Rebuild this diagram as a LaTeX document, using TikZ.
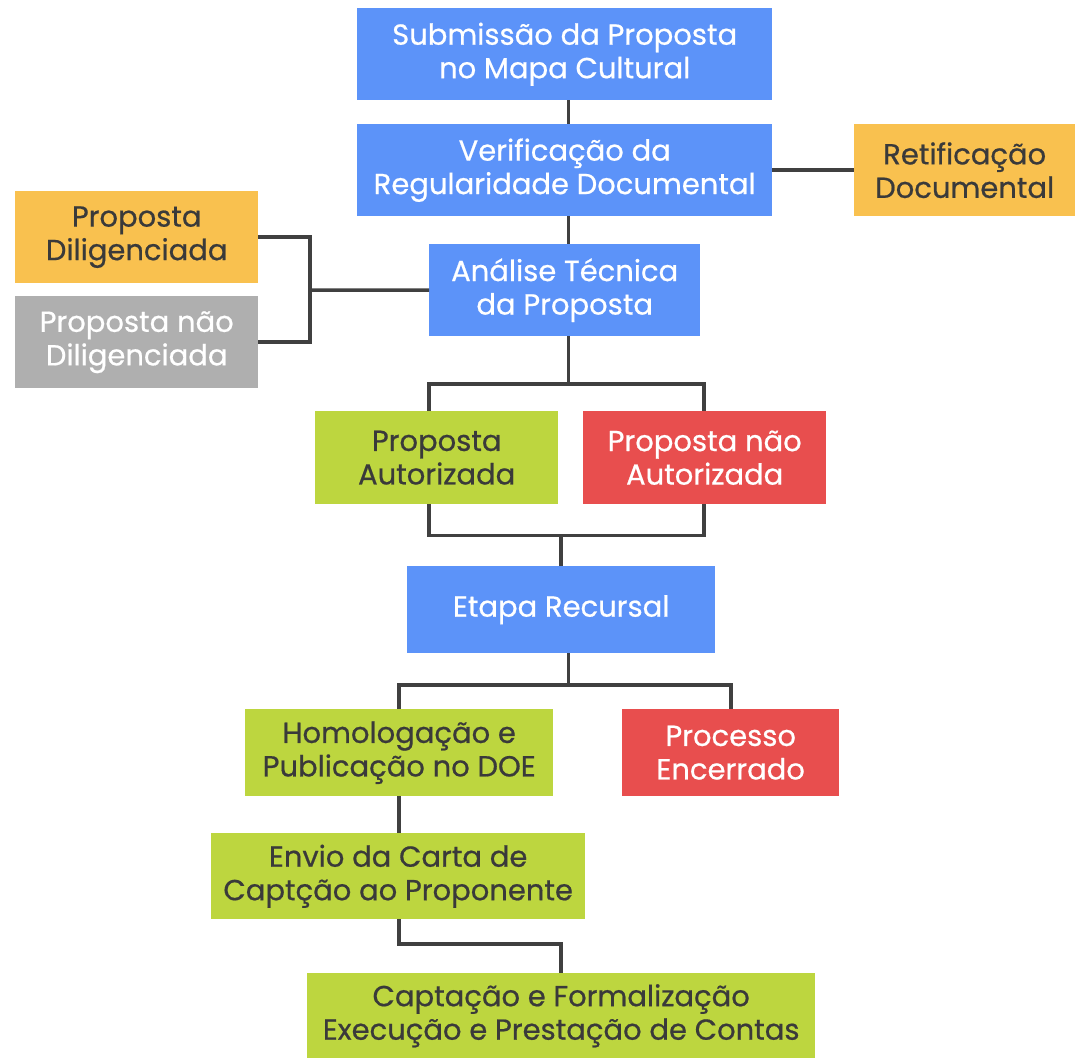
\documentclass[tikz,border=0pt]{standalone}
\usepackage{fontspec}
\setmainfont{Poppins}[FakeBold=0.6]
\definecolor{cblue}{HTML}{5C93F9}
\definecolor{corange}{HTML}{F9C14F}
\definecolor{cgray}{HTML}{AFAFAF}
\definecolor{cgreen}{HTML}{BDD63F}
\definecolor{cred}{HTML}{E84E4E}
\definecolor{ctext}{HTML}{3A3A3A}
\definecolor{cline}{HTML}{404040}
\begin{document}
\begin{tikzpicture}[x=1pt,y=-1pt,
  box/.style={rectangle, inner sep=0pt, align=center, anchor=north west,
    font=\fontsize{29}{33.5}\selectfont},
  bluebox/.style={box, fill=cblue, text=white},
  orangebox/.style={box, fill=corange, text=ctext},
  graybox/.style={box, fill=cgray, text=white},
  greenbox/.style={box, fill=cgreen, text=ctext},
  redbox/.style={box, fill=cred, text=white},
  ln/.style={draw=cline, line width=3.5pt}]
\fill[white] (0,0) rectangle (1075,1057);
\useasboundingbox (0,0) rectangle (1075,1057);

\node[bluebox, minimum width=415pt, minimum height=92pt] (sub) at (357,8) {Submissão da Proposta\\no Mapa Cultural};
\node[bluebox, minimum width=415pt, minimum height=92pt] (ver) at (357,124) {Verificação da\\Regularidade Documental};
\node[orangebox, minimum width=221pt, minimum height=92pt] (ret) at (854,124) {Retificação\\Documental};
\node[orangebox, minimum width=243pt, minimum height=92pt] (dil) at (15,191) {Proposta\\Diligenciada};
\node[graybox, minimum width=243pt, minimum height=92pt] (ndil) at (15,296) {Proposta não\\Diligenciada};
\node[bluebox, minimum width=271pt, minimum height=92pt] (ana) at (429,244) {Análise Técnica\\da Proposta};
\node[greenbox, minimum width=243pt, minimum height=93pt] (aut) at (315,411) {Proposta\\Autorizada};
\node[redbox, minimum width=243pt, minimum height=93pt] (naut) at (583,411) {Proposta não\\Autorizada};
\node[bluebox, minimum width=308pt, minimum height=87pt] (eta) at (407,566) {Etapa Recursal};
\node[greenbox, minimum width=308pt, minimum height=87pt] (hom) at (245,709) {Homologação e\\Publicação no DOE};
\node[redbox, minimum width=217pt, minimum height=87pt] (enc) at (622,709) {Processo\\Encerrado};
\node[greenbox, minimum width=374pt, minimum height=86pt] (env) at (211,833) {Envio da Carta de\\Captção ao Proponente};
\node[greenbox, minimum width=508pt, minimum height=85pt] (cap) at (307,973) {Captação e Formalização\\Execução e Prestação de Contas};

\coordinate (c1) at (568.5,0);
\coordinate (jl) at (310,290);
\coordinate (t1) at (568.5,384);
\coordinate (t1l) at (429,384);
\coordinate (t1r) at (704,384);
\coordinate (b1l) at (429,535.5);
\coordinate (b1r) at (704,535.5);
\coordinate (b1m) at (561,535.5);
\coordinate (t2) at (568.5,685);
\coordinate (t2l) at (399,685);
\coordinate (t2r) at (731,685);
\coordinate (e1) at (399,944);
\coordinate (e2) at (561,944);

\draw[ln] (c1 |- sub.south) -- (c1 |- ver.north);
\draw[ln] (c1 |- ver.south) -- (c1 |- ana.north);
\draw[ln] (ver.east |- ret.west) -- (ret.west);
\draw[ln] (dil.east) -| (jl) |- (ndil.east);
\draw[ln] (jl) -- (ana.west);
\draw[ln] (t1 |- ana.south) -- (t1);
\draw[ln] (t1l |- aut.north) -- (t1l) -- (t1r) -- (t1r |- naut.north);
\draw[ln] (b1l |- aut.south) -- (b1l) -- (b1r) -- (b1r |- naut.south);
\draw[ln] (b1m) -- (b1m |- eta.north);
\draw[ln] (t2 |- eta.south) -- (t2);
\draw[ln] (t2l |- hom.north) -- (t2l) -- (t2r) -- (t2r |- enc.north);
\draw[ln] (t2l |- hom.south) -- (t2l |- env.north);
\draw[ln] (e1 |- env.south) -- (e1) -- (e2) -- (e2 |- cap.north);
\end{tikzpicture}
\end{document}
